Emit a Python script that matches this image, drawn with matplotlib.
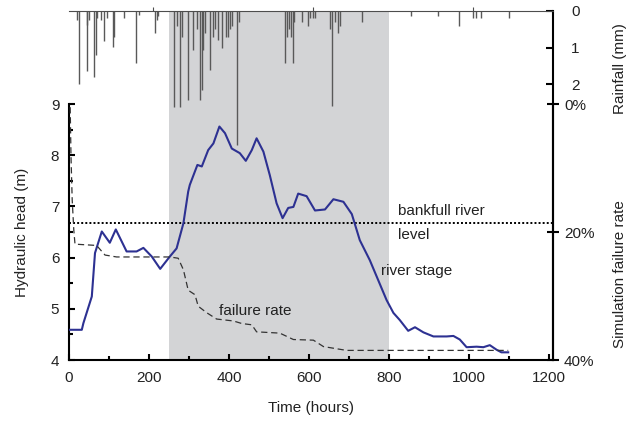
import matplotlib
matplotlib.use("Agg")
import matplotlib.pyplot as plt
from matplotlib.ticker import MultipleLocator

plt.rcParams['font.family'] = ['Liberation Sans', 'DejaVu Sans']
plt.rcParams['font.size'] = 11

# river stage (m)
stage_hours = [0, 32, 36, 57, 65, 82, 102, 117, 144, 169, 186, 207, 228, 252, 269,
               286, 298, 302, 321, 332, 348, 361, 376, 390, 407, 427, 442, 457, 469,
               486, 502, 519, 534, 548, 561, 573, 594, 615, 640, 661, 686, 707, 727,
               752, 773, 794, 811, 827, 848, 865, 886, 911, 944, 961, 977, 994, 1019,
               1036, 1052, 1069, 1081, 1098]
stage_m = [4.59, 4.59, 4.72, 5.24, 6.09, 6.51, 6.29, 6.55, 6.12, 6.12, 6.19, 6.02,
           5.78, 6.02, 6.18, 6.67, 7.29, 7.42, 7.81, 7.78, 8.10, 8.23, 8.56, 8.43,
           8.13, 8.04, 7.89, 8.10, 8.33, 8.07, 7.61, 7.06, 6.77, 6.97, 6.99, 7.25,
           7.20, 6.92, 6.94, 7.14, 7.09, 6.85, 6.34, 5.95, 5.56, 5.17, 4.92, 4.78,
           4.57, 4.64, 4.54, 4.46, 4.46, 4.47, 4.40, 4.25, 4.26, 4.25, 4.29, 4.20,
           4.15, 4.15]

# simulation failure rate (%)
fail_hours = [3, 5, 8, 12, 15, 69, 90, 119, 252, 273, 286, 298, 315, 323, 344, 369,
              411, 432, 457, 469, 527, 561, 611, 636, 694, 1098]
fail_pct = [0.5, 8.2, 15.0, 19.7, 21.9, 22.1, 23.6, 23.9, 23.9, 24.1, 25.9, 29.1,
            29.8, 31.6, 32.6, 33.6, 33.9, 34.3, 34.5, 35.6, 35.8, 36.8, 36.9, 37.9,
            38.5, 38.5]

# rainfall (mm)
rain_hours = [20, 25, 44, 46, 51, 63, 67, 69, 79, 88, 94, 111, 113, 137, 167, 176,
              215, 219, 223, 262, 269, 277, 282, 298, 311, 319, 327, 332, 336, 340,
              352, 359, 365, 373, 382, 392, 398, 402, 407, 419, 424, 540, 544, 551,
              554, 559, 562, 582, 598, 602, 611, 615, 652, 657, 665, 673, 677, 732,
              854, 923, 976, 1009, 1017, 1029, 1100]
rain_mm = [0.25, 2.0, 0.38, 1.64, 0.25, 1.8, 1.2, 0.2, 0.25, 0.81, 0.2, 0.98, 0.7,
           0.2, 1.43, 0.1, 0.6, 0.25, 0.15, 2.63, 0.4, 2.62, 0.7, 2.44, 1.07, 0.5,
           2.44, 2.16, 1.07, 0.6, 1.62, 0.7, 0.5, 0.8, 1.0, 0.7, 0.7, 0.5, 0.4, 3.67,
           0.3, 1.42, 0.7, 0.5, 0.7, 1.42, 0.3, 0.3, 0.4, 0.2, 0.2, 0.2, 0.5, 2.6,
           0.3, 0.6, 0.4, 0.3, 0.15, 0.15, 0.4, 0.2, 0.2, 0.2, 0.2]

bankfull = 6.67
wet_period = (250, 800)

BLUE = '#2d3192'
TXT = '#222222'

fig = plt.figure(figsize=(6.37, 4.21), dpi=100)
left, right = 69 / 637, 553 / 637
bottom = 1 - 360 / 421
main_top = 1 - 104 / 421
rain_top = 1 - 11 / 421

# rainfall axes spans the whole height, behind the main axes
ax_r = fig.add_axes([left, bottom, right - left, rain_top - bottom], zorder=0)
ax_r.set_xlim(0, 1210)
ax_r.set_ylim(349 / 36.5, 0)
ax_r.axvspan(*wet_period, color='#d3d4d6', lw=0, zorder=0)
ax_r.vlines(rain_hours, 0, rain_mm, color='0.35', lw=1.0, zorder=1)
for s in ['left', 'bottom']:
    ax_r.spines[s].set_visible(False)
ax_r.spines['top'].set_linewidth(0.8)
ax_r.spines['top'].set_color('0.3')
ax_r.spines['right'].set_linewidth(1.5)
ax_r.yaxis.tick_right()
ax_r.set_yticks([0, 1, 2])
ax_r.tick_params(axis='y', direction='in', length=5, width=1.5, pad=13,
                 labelsize=11, labelcolor=TXT)
ax_r.xaxis.tick_top()
ax_r.set_xticks([210, 610, 1010])
ax_r.tick_params(axis='x', direction='out', length=3, width=0.8, color='0.3',
                 labeltop=False)

# main axes
ax = fig.add_axes([left, bottom, right - left, main_top - bottom], zorder=2)
ax.patch.set_visible(False)
ax.set_xlim(0, 1210)
ax.set_ylim(4, 9)
ax.plot(stage_hours, stage_m, color=BLUE, lw=1.5, zorder=3)
ax.axhline(bankfull, color='k', lw=1.4, ls=(0, (1, 1.1)), zorder=2)
for s in ['top', 'right']:
    ax.spines[s].set_visible(False)
for s in ['left', 'bottom']:
    ax.spines[s].set_linewidth(1.5)
ax.xaxis.set_major_locator(MultipleLocator(200))
ax.xaxis.set_minor_locator(MultipleLocator(100))
ax.yaxis.set_major_locator(MultipleLocator(1))
ax.yaxis.set_minor_locator(MultipleLocator(0.5))
ax.tick_params(which='major', direction='in', length=4, width=1.5, labelsize=11,
               labelcolor=TXT)
ax.tick_params(which='minor', direction='in', length=3, width=1.5)
ax.tick_params(axis='x', which='major', pad=8)
ax.tick_params(axis='y', which='major', pad=7)

# failure rate axis
ax2 = ax.twinx()
ax2.set_ylim(40, 0)
ax2.plot(fail_hours, fail_pct, color='#333333', lw=0.9, ls=(0, (5, 3)))
for s in ['top', 'left', 'bottom']:
    ax2.spines[s].set_visible(False)
ax2.spines['right'].set_linewidth(1.5)
ax2.set_yticks([0, 20, 40])
ax2.set_yticklabels(['0%', '20%', '40%'])
ax2.tick_params(axis='y', direction='inout', length=9, width=1.5, labelsize=11,
                labelcolor=TXT)

# annotations
ax.text(822, 6.91, 'bankfull river', ha='left', va='center', color=TXT, fontsize=11)
ax.text(822, 6.44, 'level', ha='left', va='center', color=TXT, fontsize=11)
ax.text(780, 5.74, 'river stage', ha='left', va='center', color=TXT, fontsize=11)
ax.text(375, 4.96, 'failure rate', ha='left', va='center', color=TXT, fontsize=11)

# axis titles
fig.text(311 / 637, 1 - 408 / 421, 'Time (hours)', ha='center', va='center',
         color=TXT, fontsize=11)
fig.text(22 / 637, 1 - 232 / 421, 'Hydraulic head (m)', rotation=90, ha='center',
         va='center', color=TXT, fontsize=11)
fig.text(620 / 637, 1 - 274 / 421, 'Simulation failure rate', rotation=90,
         ha='center', va='center', color=TXT, fontsize=11)
fig.text(620 / 637, 1 - 69 / 421, 'Rainfall (mm)', rotation=90, ha='center',
         va='center', color=TXT, fontsize=11)

fig.savefig('out.png', dpi=100)
